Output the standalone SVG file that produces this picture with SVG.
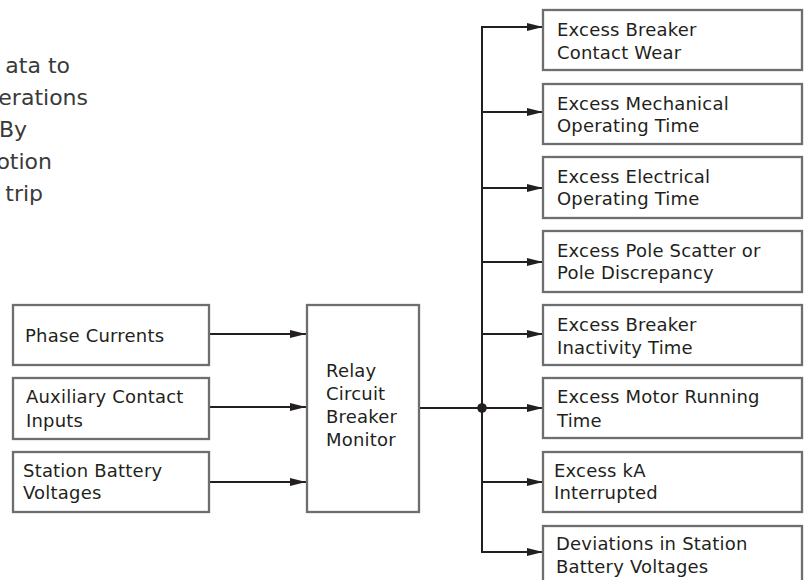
<svg xmlns="http://www.w3.org/2000/svg" width="804" height="580" viewBox="0 0 804 580">
<defs>
<style>
.box{fill:#fff;stroke:#6d6e71;stroke-width:2.3}
.t{font-family:"DejaVu Sans","Liberation Sans",sans-serif;font-size:18px;letter-spacing:0.2px;fill:#231f20}
.big{font-family:"DejaVu Sans","Liberation Sans",sans-serif;font-size:22px;fill:#3a3a3a}
.ln{fill:none;stroke:#231f20;stroke-width:2}
</style>
<marker id="ah" viewBox="0 0 16 8" refX="16" refY="4" markerUnits="userSpaceOnUse" markerWidth="16" markerHeight="8" orient="auto">
<path d="M0,0 L16,4 L0,8 Z" fill="#231f20"/>
</marker>
</defs>
<rect width="804" height="580" fill="#fff"/>
<g id="caption">
<text class="big" text-anchor="end" x="70" y="73">ata to</text>
<text class="big" text-anchor="end" x="88" y="105">erations</text>
<text class="big" text-anchor="end" x="27" y="137">By</text>
<text class="big" text-anchor="end" x="52" y="169">otion</text>
<text class="big" text-anchor="end" x="43" y="201">trip</text>
</g>
<g id="connectors">
<line class="ln" x1="209" y1="334" x2="306" y2="334" marker-end="url(#ah)"/>
<line class="ln" x1="209" y1="407" x2="306" y2="407" marker-end="url(#ah)"/>
<line class="ln" x1="209" y1="482" x2="306" y2="482" marker-end="url(#ah)"/>
<line class="ln" x1="419" y1="408" x2="482" y2="408"/>
<line class="ln" x1="482" y1="27" x2="482" y2="552"/>
<circle cx="482" cy="408" r="4.8" fill="#231f20"/>
<line class="ln" x1="481" y1="27" x2="543" y2="27" marker-end="url(#ah)"/>
<line class="ln" x1="481" y1="112" x2="543" y2="112" marker-end="url(#ah)"/>
<line class="ln" x1="481" y1="188" x2="543" y2="188" marker-end="url(#ah)"/>
<line class="ln" x1="481" y1="262" x2="543" y2="262" marker-end="url(#ah)"/>
<line class="ln" x1="481" y1="334" x2="543" y2="334" marker-end="url(#ah)"/>
<line class="ln" x1="481" y1="408" x2="543" y2="408" marker-end="url(#ah)"/>
<line class="ln" x1="481" y1="482" x2="543" y2="482" marker-end="url(#ah)"/>
<line class="ln" x1="481" y1="552" x2="543" y2="552" marker-end="url(#ah)"/>
</g>
<g id="phase-currents">
<rect class="box" x="13" y="305" width="196" height="60"/>
<text class="t" x="25" y="342">Phase Currents</text>
</g>
<g id="aux-contact">
<rect class="box" x="13" y="378" width="196" height="61"/>
<text class="t" x="26" y="403">Auxiliary Contact</text>
<text class="t" x="26" y="427">Inputs</text>
</g>
<g id="battery-voltages">
<rect class="box" x="13" y="452" width="196" height="60"/>
<text class="t" x="23" y="477">Station Battery</text>
<text class="t" x="23" y="499">Voltages</text>
</g>
<g id="monitor">
<rect class="box" x="307" y="305" width="112" height="207"/>
<text class="t" x="326" y="377">Relay</text>
<text class="t" x="326" y="400">Circuit</text>
<text class="t" x="326" y="423">Breaker</text>
<text class="t" x="326" y="446">Monitor</text>
</g>
<g id="contact-wear">
<rect class="box" x="543" y="10" width="259" height="60"/>
<text class="t" x="557" y="36">Excess Breaker</text>
<text class="t" x="557" y="59">Contact Wear</text>
</g>
<g id="mech-time">
<rect class="box" x="543" y="84" width="259" height="60"/>
<text class="t" x="557" y="110">Excess Mechanical</text>
<text class="t" x="557" y="132">Operating Time</text>
</g>
<g id="elec-time">
<rect class="box" x="543" y="157" width="259" height="61"/>
<text class="t" x="557" y="183">Excess Electrical</text>
<text class="t" x="557" y="205">Operating Time</text>
</g>
<g id="pole-scatter">
<rect class="box" x="543" y="231" width="259" height="61"/>
<text class="t" x="557" y="257">Excess Pole Scatter or</text>
<text class="t" x="557" y="279">Pole Discrepancy</text>
</g>
<g id="inactivity">
<rect class="box" x="543" y="305" width="259" height="60"/>
<text class="t" x="557" y="331">Excess Breaker</text>
<text class="t" x="557" y="354">Inactivity Time</text>
</g>
<g id="motor-time">
<rect class="box" x="543" y="378" width="259" height="60"/>
<text class="t" x="557" y="403">Excess Motor Running</text>
<text class="t" x="557" y="427">Time</text>
</g>
<g id="ka-interrupted">
<rect class="box" x="543" y="452" width="259" height="60"/>
<text class="t" x="554" y="477">Excess kA</text>
<text class="t" x="554" y="499">Interrupted</text>
</g>
<g id="battery-deviation">
<rect class="box" x="543" y="526" width="259" height="62"/>
<text class="t" x="556" y="550">Deviations in Station</text>
<text class="t" x="556" y="573">Battery Voltages</text>
</g>
</svg>
